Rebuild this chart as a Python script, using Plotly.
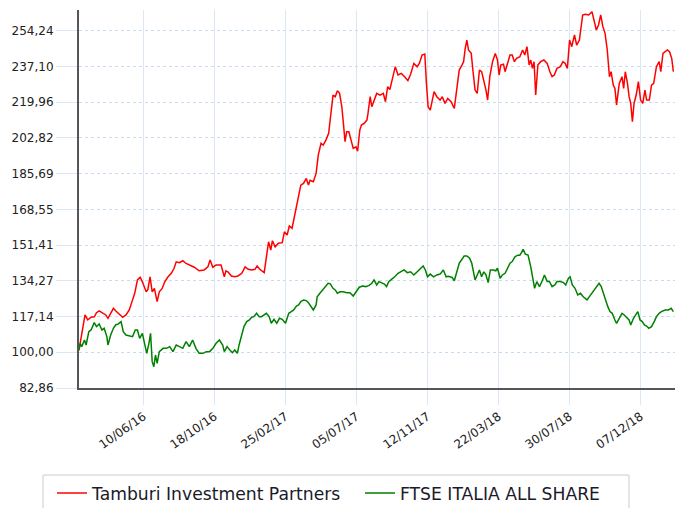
import pandas as pd
import plotly.graph_objects as go

START = "2016-02-13"

tip_days = [0, 2, 7, 11, 16, 22, 28, 32, 37, 43, 49, 53, 58, 63, 67, 73, 80, 86, 92, 97, 102, 107, 112, 116,
            123, 126, 130, 134, 138, 143, 147, 152, 157, 163, 169, 174, 178, 184, 190, 196, 202, 211, 220, 229,
            236, 240, 245, 251, 260, 266, 269, 273, 279, 285, 291, 298, 304, 310, 316, 322, 326, 331, 339, 343,
            347, 351, 354, 359, 365, 372, 376, 381, 385, 390, 394, 398, 402, 406, 411, 416, 420, 423, 429, 434,
            438, 443, 447, 452, 457, 461, 465, 469, 473, 477, 481, 484, 487, 490, 494, 498, 502, 507, 510, 514,
            517, 522, 527, 529, 533, 536, 540, 545, 551, 557, 561, 565, 569, 575, 579, 584, 590, 596, 602, 607,
            613, 619, 623, 628, 633, 636, 639, 643, 646, 650, 655, 661, 665, 670, 675, 681, 687, 692, 696, 701,
            704, 707, 710, 713, 718, 721, 725, 729, 733, 737, 741, 745, 748, 752, 757, 762, 766, 769, 772, 777,
            780, 785, 789, 793, 797, 801, 807, 812, 816, 820, 824, 827, 830, 833, 836, 840, 845, 851, 857, 862,
            866, 870, 875, 881, 886, 890, 894, 898, 902, 907, 911, 916, 919, 922, 927, 933, 939, 943, 947, 951,
            955, 959, 963, 967, 971, 974, 978, 981, 984, 989, 994, 997, 1000, 1004, 1007, 1010, 1013, 1016, 1020,
            1024, 1028, 1032, 1036, 1039, 1044, 1048, 1052, 1057, 1062, 1065, 1069, 1077, 1081, 1085, 1088]
tip_values = [101.0, 104.0, 112.3, 117.9, 115.5, 116.8, 117.0, 119.0, 119.9, 118.7, 117.9, 116.3, 119.0, 121.1,
              119.9, 118.3, 116.8, 117.9, 120.3, 124.3, 128.3, 134.7, 136.0, 133.8,
              129.0, 130.0, 136.2, 129.0, 130.7, 124.3, 129.0, 130.5, 133.8, 136.2, 137.9, 140.3, 143.4, 143.0,
              143.9, 142.6, 141.9, 140.8, 139.1, 139.5, 141.0, 144.3, 140.8, 141.9, 141.9, 136.2, 139.1, 138.5,
              136.6, 136.2, 136.6, 137.9, 141.0, 139.8, 139.5, 139.8, 141.4, 139.8, 138.2, 145.8, 153.0, 149.0,
              153.5, 150.6, 152.3, 152.6, 157.8, 156.2, 160.6, 159.5, 165.0, 169.8, 174.6, 180.2, 181.0, 183.4,
              180.2, 182.5, 181.8, 185.8, 194.6, 200.2, 199.4, 201.8, 205.0, 214.6, 223.4, 222.6, 225.5, 224.2,
              218.0, 209.8, 201.0, 205.8, 205.8, 201.8, 197.8, 198.6, 196.5, 206.6, 209.0, 209.8, 211.4, 214.6,
              222.6, 217.8, 221.0, 224.2, 223.4, 224.2, 220.2, 227.4, 226.0, 232.2, 237.0, 233.0, 233.8, 232.2,
              230.3, 233.4, 238.6, 237.0, 238.6, 242.6, 243.1, 229.0, 217.8, 216.2, 219.4, 225.0, 222.6, 221.0,
              222.6, 219.4, 221.8, 220.2, 217.0, 227.4, 235.4, 237.8, 239.4, 245.8, 249.8, 245.0, 243.4, 235.4,
              225.8, 224.2, 235.4, 234.6, 230.6, 225.8, 221.0, 232.2, 239.4, 243.4, 240.2, 233.0, 237.8, 238.2,
              234.6, 239.4, 242.6, 242.6, 239.4, 241.0, 241.8, 245.0, 242.6, 246.6, 237.8, 240.2, 236.2, 239.4,
              223.4, 237.8, 239.4, 240.2, 238.6, 234.6, 232.2, 233.0, 236.2, 237.0, 239.4, 238.6, 236.2, 249.8,
              246.6, 252.2, 247.4, 249.8, 257.0, 261.8, 262.2, 261.8, 263.4, 259.4, 254.6, 257.0, 261.8, 256.2,
              253.0, 245.0, 232.2, 234.6, 228.2, 226.6, 218.6, 229.0, 232.2, 226.6, 234.6, 229.0, 222.6, 219.4,
              210.6, 219.4, 223.4, 229.8, 221.0, 219.4, 225.8, 221.0, 221.0, 228.2, 229.0, 237.0, 239.4, 234.6,
              243.4, 245.0, 244.2, 241.0, 234.6]

ftse_days = [0, 2, 5, 10, 13, 18, 22, 28, 32, 37, 42, 46, 51, 53, 58, 63, 67, 72, 77, 81, 86, 92, 98, 103, 107,
             111, 116, 120, 124, 128, 131, 134, 137, 140, 143, 147, 154, 160, 166, 172, 178, 184, 190, 196, 202,
             208, 214, 220, 227, 233, 239, 245, 251, 257, 263, 266, 271, 276, 281, 285, 290, 293, 298, 302, 307,
             312, 316, 320, 325, 330, 334, 338, 343, 348, 352, 357, 362, 367, 372, 378, 384, 388, 393, 398, 402,
             406, 411, 416, 420, 424, 429, 434, 436, 441, 446, 451, 456, 460, 465, 469, 473, 478, 484, 490, 496,
             502, 507, 513, 519, 525, 531, 536, 540, 545, 549, 554, 559, 563, 567, 572, 578, 584, 590, 595, 601,
             607, 613, 619, 625, 630, 634, 638, 643, 649, 655, 661, 667, 672, 676, 683, 687, 692, 696, 701, 705,
             710, 715, 719, 722, 725, 729, 733, 737, 741, 745, 749, 753, 758, 763, 766, 771, 775, 780, 785, 789,
             793, 798, 803, 807, 810, 813, 817, 822, 827, 831, 834, 838, 843, 848, 852, 857, 861, 866, 871, 875,
             881, 887, 891, 896, 899, 903, 908, 913, 918, 923, 930, 934, 939, 943, 948, 952, 956, 960, 964, 968,
             972, 976, 981, 984, 989, 994, 998, 1003, 1007, 1010, 1015, 1019, 1023, 1027, 1031, 1035, 1039, 1043,
             1048, 1053, 1057, 1062, 1066, 1073, 1079, 1084, 1088]
ftse_values = [101.0, 104.3, 102.7, 105.9, 103.5, 109.9, 110.7, 114.2, 112.3, 113.6, 110.7, 111.5, 107.5, 103.5,
               108.3, 111.5, 113.1, 113.6, 114.7, 109.9, 108.3, 107.8, 107.5, 110.7, 110.7, 106.7, 109.1,
               104.3, 99.5, 104.3, 109.1, 95.5, 93.1, 98.7, 94.7, 100.3, 101.9, 101.9, 102.7, 100.3, 103.5, 102.7,
               101.9, 105.1, 102.7, 105.9, 101.9, 99.5, 99.5, 100.3, 100.3, 101.9, 104.3, 105.9, 103.5, 100.3,
               102.7, 101.1, 99.8, 101.1, 99.5, 103.5, 109.1, 112.3, 114.7, 115.5, 116.8, 117.1, 118.7, 117.1,
               117.1, 117.9, 118.7, 117.1, 113.9, 115.8, 113.9, 116.3, 115.8, 113.9, 118.7, 119.4, 120.3, 122.2,
               122.7, 124.3, 125.1, 124.8, 123.8, 122.2, 120.3, 122.7, 126.6, 128.3, 129.9, 131.2, 133.1, 132.8,
               130.7, 129.9, 128.3, 129.0, 129.0, 128.6, 128.6, 127.0, 129.0, 131.2, 131.8, 131.5, 132.1, 133.1,
               134.7, 132.3, 133.9, 133.1, 132.7, 131.5, 133.9, 135.0, 136.2, 137.9, 138.6, 139.5, 138.2, 138.6,
               137.1, 138.6, 140.3, 141.4, 139.5, 136.2, 137.5, 136.2, 137.1, 137.5, 139.5, 136.2, 136.5, 135.9,
               134.3, 139.5, 142.7, 144.6, 146.2, 146.2, 145.1, 142.7, 137.9, 134.7, 137.1, 139.5, 136.2, 138.6,
               137.1, 133.4, 139.5, 139.5, 139.1, 140.3, 135.5, 137.1, 137.9, 141.0, 142.7, 143.5, 145.8, 146.6,
               146.6, 147.8, 149.4, 147.1, 146.6, 141.0, 134.7, 130.7, 133.9, 131.5, 134.3, 137.1, 134.0, 134.0,
               131.5, 132.3, 133.9, 133.9, 133.4, 132.3, 135.5, 136.2, 132.3, 130.7, 127.5, 128.3, 126.6, 125.1,
               126.6, 128.3, 129.9, 131.5, 133.1, 131.5, 128.3, 124.3, 121.9, 119.5, 118.7, 115.5, 113.9, 116.3,
               118.7, 117.9, 116.3, 115.5, 113.1, 116.3, 117.9, 119.5, 115.5, 114.7, 113.1, 112.6, 111.5, 112.3,
               114.7, 117.1, 118.7, 119.5, 120.3, 120.3, 121.1, 119.5]

y_ticks = [82.86, 100.00, 117.14, 134.27, 151.41, 168.55, 185.69, 202.82, 219.96, 237.10, 254.24]
y_labels = ["82,86", "100,00", "117,14", "134,27", "151,41", "168,55", "185,69", "202,82", "219,96", "237,10", "254,24"]
x_ticks = ["2016-06-10", "2016-10-18", "2017-02-25", "2017-07-05", "2017-11-12", "2018-03-22", "2018-07-30", "2018-12-07"]
x_labels = ["10/06/16", "18/10/16", "25/02/17", "05/07/17", "12/11/17", "22/03/18", "30/07/18", "07/12/18"]

start = pd.Timestamp(START)
tip_dates = start + pd.to_timedelta(tip_days, unit="D")
ftse_dates = start + pd.to_timedelta(ftse_days, unit="D")

fig = go.Figure()
fig.add_trace(go.Scatter(x=tip_dates, y=tip_values, mode="lines", name="Tamburi Investment Partners",
                         line=dict(color="#ff0000", width=1.5)))
fig.add_trace(go.Scatter(x=ftse_dates, y=ftse_values, mode="lines", name="FTSE ITALIA ALL SHARE",
                         line=dict(color="#008000", width=1.5)))

# legend frame (decoration), drawn as a shape so the entries can be inset like the reference
fig.add_shape(type="rect", xref="paper", yref="paper", x0=-0.0604, x1=0.9228, y0=-0.36, y1=-0.2302,
              line=dict(color="#cccccc", width=1), fillcolor="rgba(0,0,0,0)", layer="above")

grid_c = "#dce7f5"
fig.update_layout(
    width=675, height=508,
    margin=dict(l=79, r=0, t=10, b=120, autoexpand=False),
    paper_bgcolor="white", plot_bgcolor="white",
    font=dict(family="DejaVu Sans", size=12, color="#222"),
    showlegend=True,
    legend=dict(orientation="h", x=-0.0453, y=-0.2313, xanchor="left", yanchor="top",
                borderwidth=0, bgcolor="rgba(0,0,0,0)",
                font=dict(family="DejaVu Sans", size=17.2, color="#1a1a2a"),
                entrywidth=263, entrywidthmode="pixels", itemwidth=30),
    xaxis=dict(type="date", range=["2016-02-13", "2019-02-08"],
               tickmode="array", tickvals=x_ticks, ticktext=x_labels, tickangle=-35,
               ticks="outside", ticklen=15, tickcolor=grid_c, tickwidth=1,
               showgrid=True, gridcolor=grid_c, gridwidth=1,
               showline=True, linecolor="#555555", linewidth=2, zeroline=False,
               tickfont=dict(family="DejaVu Sans", size=12, color="#222")),
    yaxis=dict(range=[82.86, 264.2], tickmode="array", tickvals=y_ticks, ticktext=y_labels,
               ticks="outside", ticklen=21, tickcolor=grid_c, tickwidth=1,
               showgrid=True, gridcolor="#c9dbf1", gridwidth=1, griddash="dot",
               showline=True, linecolor="#555555", linewidth=2, zeroline=False,
               tickfont=dict(family="DejaVu Sans", size=12, color="#222")),
)

fig.write_html("out.html")
